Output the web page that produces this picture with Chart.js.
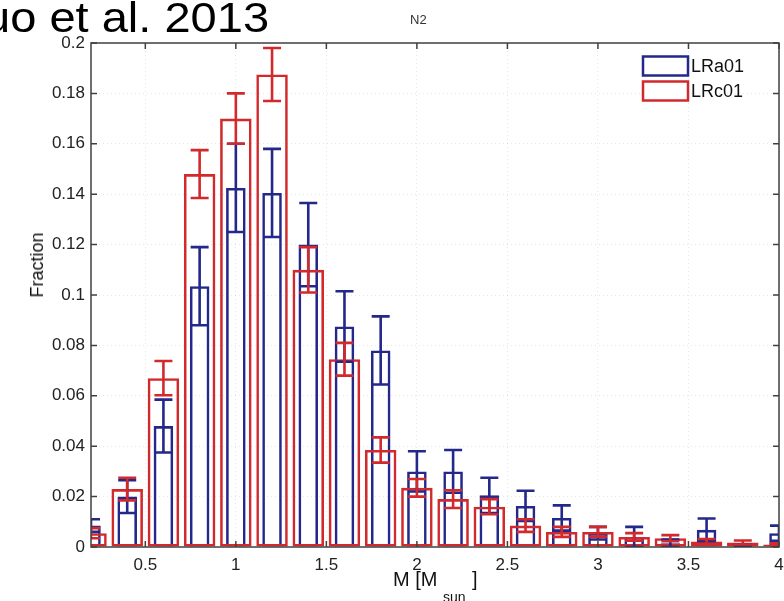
<!DOCTYPE html>
<html>
<head>
<meta charset="utf-8">
<script src="https://cdn.jsdelivr.net/npm/chart.js@4.4.1/dist/chart.umd.min.js"></script>
<style>
  body { margin: 0; background: #fff; }
  #wrap { position: relative; width: 784px; height: 601px; overflow: hidden; font-family: "Liberation Sans", Arial, sans-serif; }
  #wrap canvas { position: absolute; left: 0; top: 0; }
  .label { position: absolute; white-space: nowrap; color: #111; line-height: 1; }
  #ref { left: -16px; top: -3px; font-size: 42px; color: #000; transform: scaleX(1.12); transform-origin: 0 0; }
  #panel { left: 410px; top: 13px; font-size: 13px; color: #333; }
  #ylab { left: 37px; top: 265px; font-size: 18px; transform: translate(-50%, -50%) rotate(-90deg); }
  #xlab { left: 393px; top: 569px; font-size: 20px; }
  #xsub { left: 443px; top: 590px; font-size: 14px; }
  #xend { left: 472px; top: 569px; font-size: 20px; }
</style>
</head>
<body>
<div id="wrap">
  <canvas id="massChart" width="784" height="601"></canvas>
  <div class="label" id="ref">uo et al. 2013</div>
  <div class="label" id="panel">N2</div>
  <div class="label" id="ylab">Fraction</div>
  <div class="label" id="xlab">M [M</div>
  <div class="label" id="xsub">sun</div>
  <div class="label" id="xend">]</div>
</div>
<script>
const massBins = [0.2, 0.4, 0.6, 0.8, 1.0, 1.2, 1.4, 1.6, 1.8, 2.0, 2.2, 2.4, 2.6, 2.8, 3.0, 3.2, 3.4, 3.6, 3.8, 4.0];

const lra01Fraction = [0.0085, 0.020, 0.048, 0.1035, 0.1425, 0.1405, 0.120, 0.0875, 0.078, 0.030,
                       0.030, 0.0205, 0.0163, 0.0115, 0.0055, 0.004, 0.0015, 0.0068, 0.0005, 0.0055];
const lra01Error = [0.0025, 0.0065, 0.0105, 0.0155, 0.0175, 0.0175, 0.0165, 0.014, 0.0135, 0.008,
                    0.0085, 0.007, 0.006, 0.005, 0.0025, 0.004, 0.0015, 0.0045, 0.0005, 0.003];

const lrc01Fraction = [0.0055, 0.023, 0.067, 0.148, 0.170, 0.1875, 0.110, 0.0745, 0.0385, 0.0235,
                       0.019, 0.016, 0.0085, 0.006, 0.006, 0.004, 0.0035, 0.0022, 0.0018, 0.001];
const lrc01Error = [0.002, 0.0045, 0.0068, 0.0095, 0.010, 0.0105, 0.009, 0.0065, 0.005, 0.0035,
                    0.0035, 0.003, 0.0025, 0.002, 0.002, 0.0015, 0.0012, 0.001, 0.0008, 0.0005];

const massTicks = [0.5, 1, 1.5, 2, 2.5, 3, 3.5, 4];
const massTickLabels = ['0.5', '1', '1.5', '2', '2.5', '3', '3.5', '4'];
const fractionTicks = [0, 0.02, 0.04, 0.06, 0.08, 0.1, 0.12, 0.14, 0.16, 0.18, 0.2];
const fractionTickLabels = ['0', '0.02', '0.04', '0.06', '0.08', '0.1', '0.12', '0.14', '0.16', '0.18', '0.2'];

const BLUE = '#23288a';
const RED = '#d22a2c';
const FONT = '"Liberation Sans", Arial, sans-serif';

function points(values) {
  return massBins.map((m, i) => ({ x: m, y: values[i] }));
}

// vertical error bars with caps, drawn at each bar centre
const errorBars = {
  id: 'errorBars',
  afterDatasetsDraw(chart) {
    const { ctx, chartArea: a, scales: { x, y } } = chart;
    ctx.save();
    ctx.beginPath();
    ctx.rect(a.left, a.top, a.right - a.left, a.bottom - a.top);
    ctx.clip();
    const sets = chart.data.datasets.slice().sort((p, q) => q.order - p.order);
    sets.forEach(ds => {
      ctx.strokeStyle = ds.borderColor;
      ctx.lineWidth = 2.6;
      ds.data.forEach((pt, k) => {
        const err = ds.errors[k];
        const px = x.getPixelForValue(pt.x);
        const top = y.getPixelForValue(pt.y + err);
        const bot = y.getPixelForValue(Math.max(pt.y - err, 0));
        ctx.beginPath();
        ctx.moveTo(px, top); ctx.lineTo(px, bot);
        ctx.moveTo(px - 9, top); ctx.lineTo(px + 9, top);
        ctx.moveTo(px - 9, bot); ctx.lineTo(px + 9, bot);
        ctx.stroke();
      });
    });
    ctx.restore();
  }
};

// box around the axes with inward ticks on all four sides
const axesBox = {
  id: 'axesBox',
  afterDatasetsDraw(chart) {
    const { ctx, chartArea: a, scales: { x, y } } = chart;
    ctx.save();
    ctx.strokeStyle = '#404040';
    ctx.lineWidth = 1.5;
    ctx.strokeRect(a.left, a.top, a.right - a.left, a.bottom - a.top);
    ctx.beginPath();
    massTicks.forEach(v => {
      const px = x.getPixelForValue(v);
      ctx.moveTo(px, a.bottom); ctx.lineTo(px, a.bottom - 6);
      ctx.moveTo(px, a.top); ctx.lineTo(px, a.top + 6);
    });
    fractionTicks.forEach(v => {
      const py = y.getPixelForValue(v);
      ctx.moveTo(a.left, py); ctx.lineTo(a.left + 6, py);
      ctx.moveTo(a.right, py); ctx.lineTo(a.right - 6, py);
    });
    ctx.stroke();
    ctx.restore();
  }
};

// legend in the upper right corner of the axes
const boxLegend = {
  id: 'boxLegend',
  afterDraw(chart) {
    const { ctx, chartArea: a } = chart;
    ctx.save();
    ctx.font = '18px ' + FONT;
    ctx.textBaseline = 'middle';
    chart.data.datasets.forEach((ds, i) => {
      const cy = a.top + 23 + i * 25;
      const bx = a.right - 136;
      ctx.fillStyle = '#fff';
      ctx.fillRect(bx, cy - 9.5, 45, 19);
      ctx.strokeStyle = ds.borderColor;
      ctx.lineWidth = 2.5;
      ctx.strokeRect(bx, cy - 9.5, 45, 19);
      ctx.fillStyle = '#111';
      ctx.fillText(ds.label, bx + 48, cy + 1);
    });
    ctx.restore();
  }
};

new Chart(document.getElementById('massChart'), {
  type: 'bar',
  data: {
    datasets: [
      {
        label: 'LRa01',
        data: points(lra01Fraction),
        errors: lra01Error,
        borderColor: BLUE,
        backgroundColor: 'rgba(255,255,255,0)',
        borderWidth: 2.6,
        borderSkipped: false,
        grouped: false,
        categoryPercentage: 1,
        barPercentage: 0.54,
        clip: 0,
        order: 2
      },
      {
        label: 'LRc01',
        data: points(lrc01Fraction),
        errors: lrc01Error,
        borderColor: RED,
        backgroundColor: 'rgba(255,255,255,0)',
        borderWidth: 2.6,
        borderSkipped: false,
        grouped: false,
        categoryPercentage: 1,
        barPercentage: 0.87,
        clip: 0,
        order: 1
      }
    ]
  },
  options: {
    responsive: false,
    animation: false,
    devicePixelRatio: 1,
    layout: { padding: { top: 43, right: 5, bottom: 0, left: 0 } },
    plugins: {
      legend: { display: false },
      tooltip: { enabled: false }
    },
    scales: {
      x: {
        type: 'linear',
        min: 0.2,
        max: 4.0,
        offset: false,
        grid: { color: 'rgba(0,0,0,0.09)', drawTicks: false, offset: false },
        border: { display: false, dash: [1, 3] },
        ticks: {
          padding: 8,
          color: '#222',
          font: { family: FONT, size: 17 },
          maxRotation: 0,
          autoSkip: false,
          callback: (v, i) => massTickLabels[i]
        },
        afterBuildTicks: s => { s.ticks = massTicks.map(v => ({ value: v })); },
        afterFit: s => { s.height = 54; s.paddingLeft = 0; s.paddingRight = 0; }
      },
      y: {
        min: 0,
        max: 0.2,
        grid: { color: 'rgba(0,0,0,0.09)', drawTicks: false },
        border: { display: false, dash: [1, 3] },
        ticks: {
          padding: 6,
          color: '#222',
          font: { family: FONT, size: 17 },
          autoSkip: false,
          callback: (v, i) => fractionTickLabels[i]
        },
        afterBuildTicks: s => { s.ticks = fractionTicks.map(v => ({ value: v })); },
        afterFit: s => { s.width = 91; s.paddingTop = 0; s.paddingBottom = 0; }
      }
    }
  },
  plugins: [errorBars, axesBox, boxLegend]
});
</script>
</body>
</html>
